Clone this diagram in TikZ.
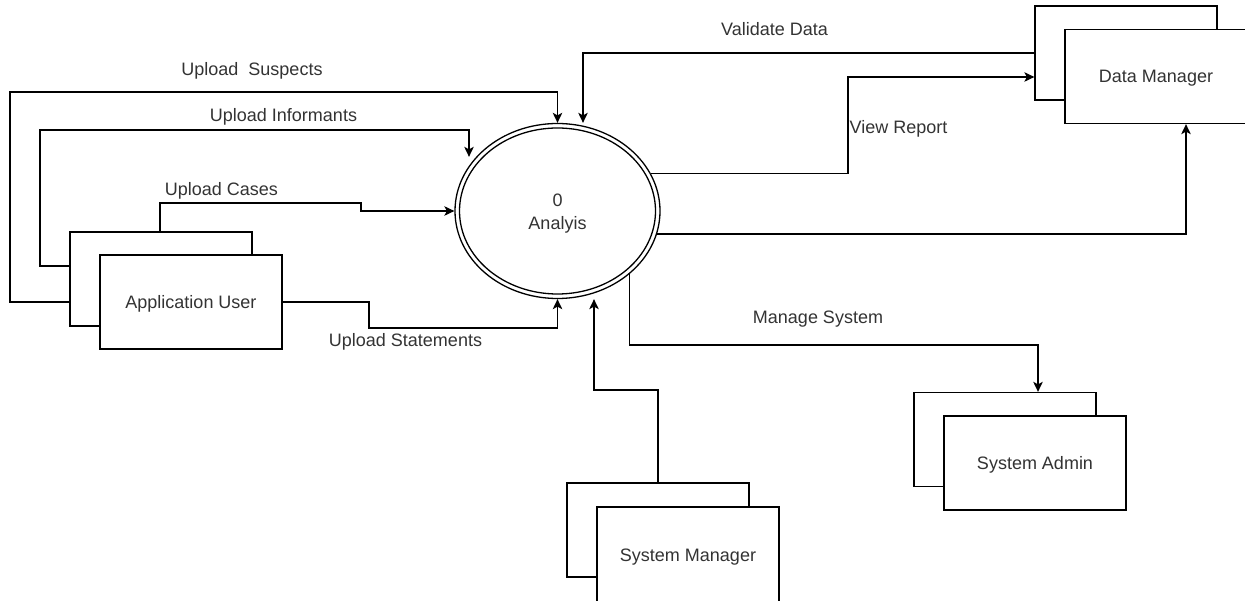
\documentclass[tikz,border=0pt]{standalone}
\usepackage{fontspec}
\setmainfont{Liberation Sans}
\usetikzlibrary{arrows.meta,shapes.geometric}

\begin{document}
\begin{tikzpicture}[x=1pt,y=-1pt,
  line width=1.3pt,
  every node/.style={font=\fontsize{18pt}{23pt}\selectfont, text=black!80},
  entity/.style={draw=black, fill=white, rectangle, minimum width=182pt,
    minimum height=94pt, inner sep=0pt, text height=13pt, text depth=0pt},
  process/.style={draw=black, fill=white, ellipse, minimum width=205pt,
    minimum height=175pt, inner sep=0pt, align=center,
    text height=38pt, text depth=0pt},
  flow/.style={draw=black, -{Stealth[length=10pt,width=9.5pt,inset=2.5pt]}},
  lbl/.style={anchor=base, inner sep=0pt}]

\useasboundingbox (0,0) rectangle (1245,601);

% central process, drawn as a double ellipse
\node[process] (ell) at (557.5,211) {0\\Analyis};
\draw[black] (ell.center) ellipse [x radius=98pt, y radius=83pt];

% external entities: a back sheet and a front sheet each
\node[entity] (aub) at (161,279) {};
\node[entity] (auf) at (191,302) {Application User};

\node[entity] (dmb) at (1126,53) {};
\node[entity] (dmf) at (1156,76.5) {Data Manager};

\node[entity] (sab) at (1005,439.5) {};
\node[entity] (saf) at (1035,463) {System Admin};

\node[entity] (smb) at (658,530) {};
\node[entity, minimum height=96pt] (smf) at (688,555) {System Manager};

% flows from the application user
\draw[flow] (aub.west |- auf.west) -| (10,92) -| (ell.north);
\draw[flow] (aub.west |- 0,266) -| (40,130) -| ([xshift=-88.5pt,yshift=-34pt]ell.north);
\draw[flow] (aub.north -| 160,0) |- (361,203) |- (ell.west);
\draw[flow] (auf.east) -| (369,328) -| (ell.south);

% flows with the data manager
\draw[flow] (dmb.west) -| ([xshift=25.5pt]ell.north);
\draw[flow] (ell.22.8) -| (848,77) -- (848,77 -| dmb.west);
\draw[flow] (ell.-13.5) -| (1186,0 |- dmf.south);

% system admin and system manager
\draw[flow] (ell.-41.7) |- (1038,345) -- (1038,345 |- sab.north);
\draw[flow] (smb.north) |- (594,390) -- ([xshift=36.5pt]ell.south);

% flow labels
\node[lbl] (lsus) at (252,75.5) {Upload\ \ Suspects};
\node[lbl] (linf) at (283.5,121.5) {Upload Informants};
\node[lbl] (lcas) at (221.5,195.5) {Upload Cases};
\node[lbl] (lsta) at (405.5,346.5) {Upload Statements};
\node[lbl] (lval) at (774.5,35.5) {Validate Data};
\node[lbl, anchor=base west] (lvie) at (849,133.5) {View Report};
\node[lbl] (lman) at (818,323.5) {Manage System};

\end{tikzpicture}
\end{document}
